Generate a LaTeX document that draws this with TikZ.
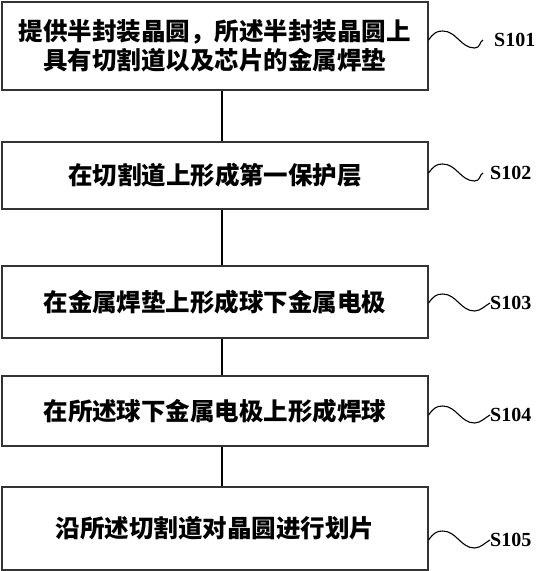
\documentclass[tikz,border=0pt]{standalone}
\usepackage{fontspec}
\setmainfont{Liberation Serif}
\newfontfamily\cjk{Noto Sans CJK SC}
\usetikzlibrary{calc}

% wavy leader from a step box to its label: box, label, gap before label
\newcommand{\wavelink}[3]{%
  \draw[wave] (#1.east |- #2.west)
    .. controls +(5,-7) and +(-6,0) .. ($(#1.east |- #2.west)+(14,-9)$)
    .. controls +(14,0) and +(-14,0) .. ($(#1.east |- #2.west)+(46,8)$)
    .. controls +(6,0) and +(-4,2) .. ([xshift=-#3pt]#2.west);}

\begin{document}
\begin{tikzpicture}[x=1pt,y=-1pt,
    stepbox/.style={draw=black!80, line width=1.2pt, minimum width=426pt,
      inner sep=0pt, align=center,
      font=\fontsize{24.5}{29.5}\selectfont\cjk\bfseries},
    lbl/.style={anchor=west, inner sep=0pt,
      font=\fontsize{20}{24}\selectfont\bfseries},
    link/.style={line width=1.6pt},
    wave/.style={line width=1.1pt}]
    \useasboundingbox (0,0) rectangle (536,571);
    % ---- step boxes ----
    \node[stepbox, minimum height=88pt] (b1) at (215,46)
      {提供半封装晶圆，所述半封装晶圆上\\具有切割道以及芯片的金属焊垫};
    \node[stepbox, minimum height=67pt] (b2) at (215,175.5) {在切割道上形成第一保护层};
    \node[stepbox, minimum height=72pt] (b3) at (215,302) {在金属焊垫上形成球下金属电极};
    \node[stepbox, minimum height=70pt] (b4) at (215,411) {在所述球下金属电极上形成焊球};
    \node[stepbox, minimum height=83pt] (b5) at (215,528.5) {沿所述切割道对晶圆进行划片};
    % ---- step labels ----
    \node[lbl] (l1) at (494,40)  {S101};
    \node[lbl] (l2) at (490,173) {S102};
    \node[lbl] (l3) at (490,303) {S103};
    \node[lbl] (l4) at (490,415) {S104};
    \node[lbl] (l5) at (490,540) {S105};
    % ---- connectors ----
    \foreach \a/\b in {b1/b2,b2/b3,b3/b4,b4/b5}
      \draw[link] ([xshift=7pt]\a.south) -- ([xshift=7pt]\b.north);
    \wavelink{b1}{l1}{11}
    \wavelink{b2}{l2}{7}
    \wavelink{b3}{l3}{0}
    \wavelink{b4}{l4}{0}
    \wavelink{b5}{l5}{0}
\end{tikzpicture}
\end{document}
